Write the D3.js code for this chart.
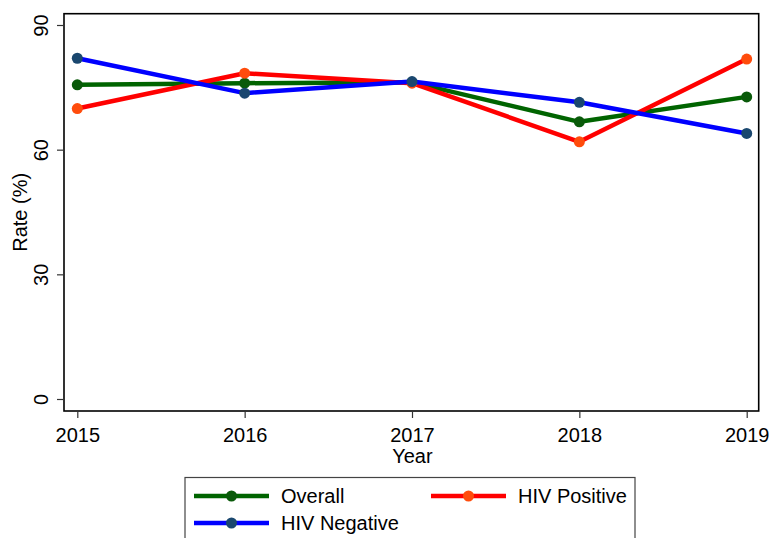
<!DOCTYPE html>
<html><head><meta charset="utf-8">
<script src="https://cdn.jsdelivr.net/npm/d3@7"></script>
<style>body{margin:0;background:#fff}svg{display:block;font-family:"Liberation Sans",Arial,sans-serif}</style>
</head><body>
<svg id="c" width="769" height="538"></svg>
<script>
const years = [2015, 2016, 2017, 2018, 2019];
const overall = [75.6, 76.0, 76.2, 66.7, 72.7];
const hivPositive = [69.9, 78.4, 76.0, 61.9, 81.8];
const hivNegative = [82.0, 73.6, 76.4, 71.4, 63.9];
const yTicks = [0, 30, 60, 90];
const seriesNames = ["Overall", "HIV Positive", "HIV Negative"];

const series = [
  {name: seriesNames[0], values: overall, line: "#006400", marker: "#0a5a0a"},
  {name: seriesNames[1], values: hivPositive, line: "#ff0000", marker: "#ff4c0c"},
  {name: seriesNames[2], values: hivNegative, line: "#0000ff", marker: "#1a476f"}
];

const FS = 20;
const svg = d3.select("#c");
const x = d3.scaleLinear().domain([2015, 2019]).range([77.3, 746.7]);
const y = d3.scaleLinear().domain([0, 90]).range([399, 25]);
const plot = {l: 64, t: 13.7, r: 758.7, b: 411};

// frame
svg.append("rect").attr("x", plot.l).attr("y", plot.t)
  .attr("width", plot.r - plot.l).attr("height", plot.b - plot.t)
  .attr("fill", "none").attr("stroke", "#000").attr("stroke-width", 1.6);

// y axis
const yAxis = svg.append("g").attr("transform", `translate(${plot.l},0)`)
  .call(d3.axisLeft(y).tickValues(yTicks).tickSize(7).tickFormat(d3.format("d")));
yAxis.select(".domain").remove();
yAxis.selectAll(".tick line").attr("stroke", "#333").attr("stroke-width", 1.2);
yAxis.selectAll(".tick text").attr("x", null).attr("dy", null)
  .attr("transform", "translate(-16,0) rotate(-90)")
  .attr("text-anchor", "middle").attr("font-size", FS).attr("fill", "#000")
  .attr("font-family", "Liberation Sans, Arial, sans-serif");

// x axis
const xAxis = svg.append("g").attr("transform", `translate(0,${plot.b})`)
  .call(d3.axisBottom(x).tickValues(years).tickSize(7).tickFormat(d3.format("d")));
xAxis.select(".domain").remove();
xAxis.selectAll(".tick line").attr("stroke", "#333").attr("stroke-width", 1.2);
xAxis.selectAll(".tick text").attr("y", 30.5).attr("dy", null)
  .attr("font-size", FS).attr("fill", "#000")
  .attr("font-family", "Liberation Sans, Arial, sans-serif");

// axis titles
svg.append("text").attr("x", (plot.l + plot.r) / 2 + 1).attr("y", 462.5)
  .attr("text-anchor", "middle").attr("font-size", FS).text("Year");
svg.append("text").attr("transform", `translate(27,${(plot.t + plot.b) / 2}) rotate(-90)`)
  .attr("text-anchor", "middle").attr("font-size", FS).text("Rate (%)");

// series
const line = d3.line().x((d, i) => x(years[i])).y(d => y(d));
series.forEach(s => {
  const g = svg.append("g");
  g.append("path").attr("d", line(s.values)).attr("fill", "none")
    .attr("stroke", s.line).attr("stroke-width", 4.5).attr("stroke-linejoin", "round");
  g.selectAll("circle").data(s.values).join("circle")
    .attr("cx", (d, i) => x(years[i])).attr("cy", d => y(d)).attr("r", 5.5)
    .attr("fill", s.marker);
});

// legend
const lg = svg.append("g");
lg.append("rect").attr("x", 185).attr("y", 477.5).attr("width", 450).attr("height", 80)
  .attr("fill", "#fff").attr("stroke", "#444").attr("stroke-width", 1.2);
const pos = [{x: 194, y: 496}, {x: 431, y: 496}, {x: 194, y: 523}];
series.forEach((s, i) => {
  const p = pos[i];
  lg.append("line").attr("x1", p.x).attr("x2", p.x + 75).attr("y1", p.y).attr("y2", p.y)
    .attr("stroke", s.line).attr("stroke-width", 4.5);
  lg.append("circle").attr("cx", p.x + 37.5).attr("cy", p.y).attr("r", 5.5).attr("fill", s.marker);
  lg.append("text").attr("x", p.x + 87).attr("y", p.y + 7).attr("font-size", FS).text(s.name);
});
</script>
</body></html>
